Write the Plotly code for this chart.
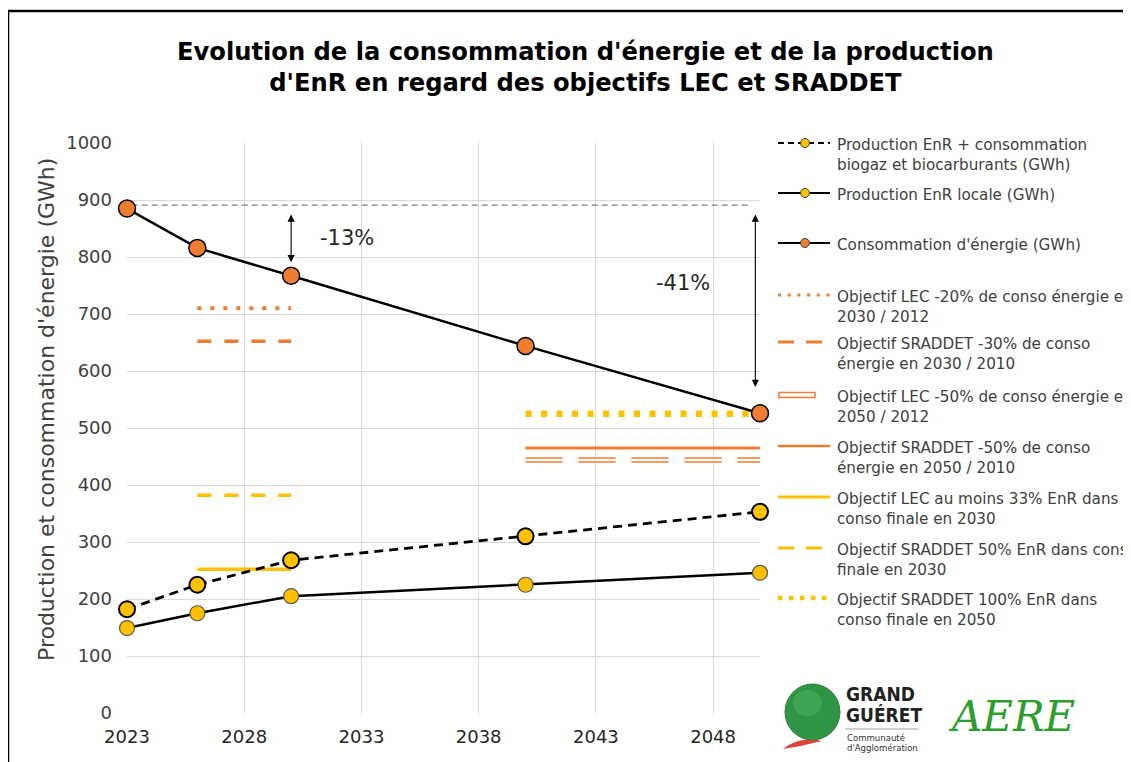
import plotly.graph_objects as go

# the page body adds an 8px offset, so the figure is drawn 8px smaller
OFF = 8
W, H = 1131 - OFF, 762 - OFF
PL, PT, PW, PH = 127, 143, 633, 570  # plot area in screen pixels

# data
years = [2023, 2026, 2030, 2040, 2050]
conso = [885, 816, 767, 644, 526]
prod_total = [182, 225, 268, 310, 353]
prod_locale = [149, 175, 205, 225, 246]

obj_2030_x = [2026, 2030]
obj_2050_x = [2040, 2050]
lec_conso_2030 = 710
sraddet_conso_2030 = 652
lec_conso_2050 = 444
sraddet_conso_2050 = 465
lec_enr_2030 = 252
sraddet_enr_2030 = 382
sraddet_enr_2050 = 525

ref_level = 891
ref_x = [2023.2, 2049.6]

ORANGE = "#ED7D31"
YELLOW = "#FFC000"
FONT = "Century Gothic, DejaVu Sans, sans-serif"
TXT = "#404040"


def px(p):
    return (p - PL) / PW


def py(p):
    return (PT + PH - p) / PH


fig = go.Figure()

# reference dashed line
fig.add_trace(go.Scatter(x=ref_x, y=[ref_level] * 2, mode="lines",
                         line=dict(color="#7F7F7F", width=1.2, dash="6px,4px")))

# objectives
fig.add_trace(go.Scatter(x=obj_2030_x, y=[lec_conso_2030] * 2, mode="lines",
                         line=dict(color=ORANGE, width=4, dash="4px,9px")))
fig.add_trace(go.Scatter(x=obj_2030_x, y=[sraddet_conso_2030] * 2, mode="lines",
                         line=dict(color=ORANGE, width=3.5, dash="14px,13px")))
fig.add_trace(go.Scatter(x=obj_2050_x, y=[sraddet_conso_2050] * 2, mode="lines",
                         line=dict(color=ORANGE, width=3)))
fig.add_trace(go.Scatter(x=obj_2050_x, y=[lec_conso_2050] * 2, mode="lines",
                         line=dict(color=ORANGE, width=5.5, dash="37px,16px")))
fig.add_trace(go.Scatter(x=obj_2050_x, y=[lec_conso_2050] * 2, mode="lines",
                         line=dict(color="white", width=2.5, dash="37px,16px")))
fig.add_trace(go.Scatter(x=obj_2030_x, y=[lec_enr_2030] * 2, mode="lines",
                         line=dict(color=YELLOW, width=3.5)))
fig.add_trace(go.Scatter(x=obj_2030_x, y=[sraddet_enr_2030] * 2, mode="lines",
                         line=dict(color=YELLOW, width=3.5, dash="14px,13px")))
fig.add_trace(go.Scatter(x=obj_2050_x, y=[sraddet_enr_2050] * 2, mode="lines",
                         line=dict(color=YELLOW, width=6.5, dash="6px,9.5px")))

# series
fig.add_trace(go.Scatter(x=years, y=prod_locale, mode="lines+markers", cliponaxis=False,
                         line=dict(color="black", width=2.5),
                         marker=dict(size=15, color=YELLOW, line=dict(color="#595959", width=1.2))))
fig.add_trace(go.Scatter(x=years, y=prod_total, mode="lines+markers", cliponaxis=False,
                         line=dict(color="black", width=2.8, dash="9px,6px"),
                         marker=dict(size=16, color=YELLOW, line=dict(color="black", width=2))))
fig.add_trace(go.Scatter(x=years, y=conso, mode="lines+markers", cliponaxis=False,
                         line=dict(color="black", width=2.5),
                         marker=dict(size=17, color=ORANGE, line=dict(color="black", width=1.5))))

shapes = []
annotations = []


def note(x, y, text, size, color=TXT, family=FONT, xanchor="center", yanchor="middle", **kw):
    annotations.append(dict(x=px(x), y=py(y), xref="paper", yref="paper", text=text,
                            showarrow=False, xanchor=xanchor, yanchor=yanchor,
                            font=dict(size=size, color=color, family=family, **kw.pop("fontkw", {})),
                            **kw))


# outer frame
shapes.append(dict(type="rect", xref="paper", yref="paper",
                   x0=px(8), x1=px(1145), y0=py(11), y1=py(780),
                   line=dict(color="black", width=2.5), fillcolor="rgba(0,0,0,0)"))

# arrows
for xa, y_top, y_bot in [(2030, 877, 791), (2049.8, 877, 572)]:
    annotations.append(dict(x=xa, y=y_bot, ax=xa, ay=y_top, xref="x", yref="y",
                            axref="x", ayref="y", showarrow=True, arrowhead=2,
                            arrowside="end+start", arrowsize=1.3, arrowwidth=1.1,
                            arrowcolor="black", text=""))
note(347, 238, "-13%", 21, color="#262626")
note(683, 283, "-41%", 21, color="#262626")

# title
note(585, 67, "<b>Evolution de la consommation d'énergie et de la production<br>"
              "d'EnR en regard des objectifs LEC et SRADDET</b>", 24.2, color="black")

# y axis title
note(46, 410, "Production et consommation d'énergie (GWh)", 22, textangle=-90)

# manual legend
sx0, sx1, sxm, tx = 778, 830, 805, 835
legend = [
    (143, "Production EnR + consommation<br>biogaz et biocarburants (GWh)", "dashmark"),
    (193, "Production EnR locale (GWh)", "solidmark_y"),
    (243, "Consommation d'énergie (GWh)", "solidmark_o"),
    (295, "Objectif LEC -20% de conso énergie en<br>2030 / 2012", "o_dot"),
    (342, "Objectif SRADDET -30% de conso<br>énergie en 2030 / 2010", "o_dash"),
    (395, "Objectif LEC -50% de conso énergie en<br>2050 / 2012", "o_hollow"),
    (446, "Objectif SRADDET -50% de conso<br>énergie en 2050 / 2010", "o_solid"),
    (497, "Objectif LEC au moins 33% EnR dans<br>conso finale en 2030", "y_solid"),
    (548, "Objectif SRADDET 50% EnR dans conso<br>finale en 2030", "y_dash"),
    (598, "Objectif SRADDET 100% EnR dans<br>conso finale en 2050", "y_dot"),
]
for yy, label, kind in legend:
    note(tx, yy - 9, label, 15.2, xanchor="left", yanchor="top", align="left")

    def seg(color, width, dash="solid", a=sx0, b=sx1):
        shapes.append(dict(type="line", xref="paper", yref="paper",
                           x0=px(a), x1=px(b), y0=py(yy), y1=py(yy),
                           line=dict(color=color, width=width, dash=dash)))

    def mark(color, lc):
        r = 4.5
        shapes.append(dict(type="circle", xref="paper", yref="paper",
                           x0=px(sxm - r), x1=px(sxm + r), y0=py(yy + r), y1=py(yy - r),
                           fillcolor=color, line=dict(color=lc, width=1)))

    if kind == "dashmark":
        seg("black", 2.2, "6px,4px")
        mark(YELLOW, "#404040")
    elif kind == "solidmark_y":
        seg("black", 2.2)
        mark(YELLOW, "#404040")
    elif kind == "solidmark_o":
        seg("black", 2.2)
        mark(ORANGE, "#404040")
    elif kind == "o_dot":
        seg(ORANGE, 3, "3px,6.7px", sx0, sx1 + 2)
    elif kind == "o_dash":
        seg(ORANGE, 3, "16px,12px", sx0, 823)
    elif kind == "o_hollow":
        shapes.append(dict(type="rect", xref="paper", yref="paper",
                           x0=px(779), x1=px(815), y0=py(yy + 2.5), y1=py(yy - 2.5),
                           line=dict(color=ORANGE, width=1.5), fillcolor="white"))
    elif kind == "o_solid":
        seg(ORANGE, 2.5)
    elif kind == "y_solid":
        seg(YELLOW, 3)
    elif kind == "y_dash":
        seg(YELLOW, 3, "16px,12px", sx0, 823)
    elif kind == "y_dot":
        seg(YELLOW, 4.5, "4.5px,6.5px", sx0, 828)

# logos
shapes.append(dict(type="path", xref="paper", yref="paper",
                   path="M %f %f Q %f %f %f %f Q %f %f %f %f Z" % (
                       px(783), py(749), px(800), py(736), px(822), py(741),
                       px(803), py(746), px(783), py(749)),
                   fillcolor="#E0413A", line=dict(width=0)))
shapes.append(dict(type="circle", xref="paper", yref="paper",
                   x0=px(785), x1=px(840), y0=py(740), y1=py(684),
                   fillcolor="#2F9444", line=dict(color="#2A7F3A", width=1)))
shapes.append(dict(type="circle", xref="paper", yref="paper",
                   x0=px(793), x1=px(822), y0=py(716), y1=py(690),
                   fillcolor="#4DB05C", line=dict(width=0), opacity=0.6))
shapes.append(dict(type="line", xref="paper", yref="paper",
                   x0=px(845), x1=px(918), y0=py(729), y1=py(729),
                   line=dict(color="#A0A0A0", width=1)))
logo_font = "DejaVu Sans Condensed, DejaVu Sans"
note(844, 694, "<b>GRAND</b>", 19, color="#222222", family=logo_font, xanchor="left")
note(844, 715, "<b>GUÉRET</b>", 19, color="#222222", family=logo_font, xanchor="left")
note(845, 737, "Communauté", 9.5, color="#333333", family=logo_font, xanchor="left")
note(845, 747, "d'Agglomération", 9.5, color="#333333", family=logo_font, xanchor="left")
note(1012, 716, "AERE", 42, color="#2AA02A", family="DejaVu Serif", fontkw=dict(style="italic"))

fig.update_layout(
    width=W, height=H,
    margin=dict(l=PL - OFF, r=W - (PL - OFF) - PW, t=PT - OFF, b=H - (PT - OFF) - PH),
    paper_bgcolor="white", plot_bgcolor="white",
    showlegend=False,
    shapes=shapes, annotations=annotations,
    font=dict(family=FONT, color=TXT),
    xaxis=dict(range=[2023, 2050], tick0=2023, dtick=5, showgrid=True,
               gridcolor="#D9D9D9", gridwidth=1, zeroline=False, showline=False,
               tickfont=dict(size=18, color="#262626"), ticks="", ticklabelstandoff=11),
    yaxis=dict(range=[0, 1000], dtick=100, showgrid=True, gridcolor="#D9D9D9",
               gridwidth=1, zeroline=False, showline=False,
               tickfont=dict(size=18, color="#404040"), ticks="", ticklabelstandoff=14),
)

fig.write_html("out.html")
